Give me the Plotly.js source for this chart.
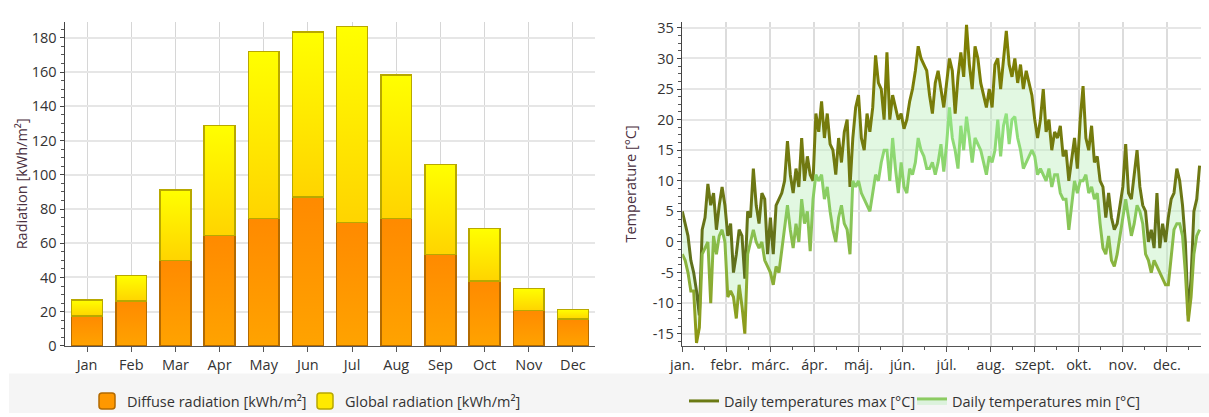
<!DOCTYPE html>
<html>
<head>
<meta charset="utf-8">
<script src="https://cdn.plot.ly/plotly-3.0.1.min.js"></script>
<style>
html,body{margin:0;padding:0;background:#fff;}
#chart{width:1209px;height:417px;}
</style>
</head>
<body>
<div id="chart"></div>
<script>
// ---- Radiation chart data ----
const months = ['Jan','Feb','Mar','Apr','May','Jun','Jul','Aug','Sep','Oct','Nov','Dec'];
const diffuse = [17.5, 26.2, 49.9, 64.6, 74.6, 87, 72, 74.4, 53.4, 38, 20.8, 15.6];
const globalRad = [26.8, 41.1, 91.2, 128.8, 171.9, 183.4, 186.7, 158.3, 106, 68.6, 33.7, 21.4];

// ---- Temperature chart data (every 2nd day of the year, day index 0..364) ----
const monthTickDays = [0, 31, 62, 93, 124, 155, 186, 217, 248, 279, 310, 341];
const monthTickText = ['jan.','febr.','márc.','ápr.','máj.','jún.','júl.','aug.','szept.','okt.','nov.','dec.'];
const tempTickVals = [-15,-10,-5,0,5,10,15,20,25,30,35];
const tempTickText = ['-15','-10','-5','0','5','10','15','20','25','30','35'];

const tMax = [
  5,3,1,-3,-5,-8,-12,2,4,9.5,6,8,2,6,9,6,
  1,3,-5,-2,2,1,-6,5,4,12,6,3,8,7,-2,
  4,-2,6,7,8,10,16.5,11,8,12,9,17,10,14,11,10,
  21,18,23,17,21,16,15,11,17,13,18,20,9,17,22,
  24,17,15,21,18,22,30.5,26,25,20,31,20,24,22,20,21,
  18.5,20,23,25,28,32,
  30,29,28,24,21,26,28,25,22,
  26,30,28,21,27,31,27,35.5,29,25,32,30,26,24,22,25,
  22,29,30,25,30,34.5,29,27,30,26,29,25,28,26,24,
  20,17,20,25,18,20,15,18,17,19,14,15,10,14,17,12,
  20,25.5,17,15,19,13,14,10,9,4,8,4,2,3,6,
  9,16,8,7,11,15,9,6,5,0,2,-1,8,-1,3,0,
  4,7,8,12,10,6,0,-12,-6,5,7,12.5
];
const tMin = [
  -2,-3,-5,-8,-8,-16.5,-14,-2,-1,0,-10,1,-2,1,2,0,
  -9,-8,-9,-12.5,-7,-10.5,-15,-2,0,2,0,-1,0,-3,-4,
  -5,-7,-4,-5,-1,3,6,2,-1,3,0,7,3,5,-1.5,7,
  11,10,11,7,9,5,2,0,4,6,3,2,-2,10,9,
  10,8,7,6,5,8,11,10,13,15,15,10,17,12,8,13,
  9,8,12,11,13,17,
  15,14,12,12,13,11,13,16,11.5,
  16,22,17,15,12,19,15,20.5,17,13,17,16,15,13,11,14,
  13,15,20,14,19,21,16,20,20.5,17,15,12,13,14,15,
  14,11,12,11,10,12,9,11,11,8,7,7,2,6,10,8,
  10,10,11,8,9,7,8,3,-1,-2,1,-3,-4,-2,1,
  4,7,4,1,3,6,5,3,-2,-3,-5,-3,-4,-5,-6,-7,
  -7,-2,2,3,3,1,-5,-13,-9,-2,1,2
];
const days = tMax.map((_, i) => i * 2);

// ---- build traces ----
const globalRest = globalRad.map((g, i) => g - diffuse[i]);
const FONT = '"Segoe UI","Open Sans","Noto Sans",sans-serif';

const traces = [
  {
    type: 'bar', name: 'Diffuse radiation [kWh/m²]', x: months, y: diffuse,
    xaxis: 'x', yaxis: 'y', legend: 'legend',
    marker: {color: '#FF9800', line: {color: '#B36A00', width: 1.5}}
  },
  {
    type: 'bar', name: 'Global radiation [kWh/m²]', x: months, y: globalRest,
    customdata: globalRad,
    xaxis: 'x', yaxis: 'y', legend: 'legend',
    marker: {color: '#FFEA00', line: {color: '#B8A800', width: 1.5}}
  },
  {
    type: 'scatter', mode: 'lines', name: 'Daily temperatures max [°C]', x: days, y: tMax,
    xaxis: 'x2', yaxis: 'y2', legend: 'legend2',
    line: {color: '#6B7A14', width: 3}
  },
  {
    type: 'scatter', mode: 'lines', name: 'Daily temperatures min [°C]', x: days, y: tMin,
    xaxis: 'x2', yaxis: 'y2', legend: 'legend2',
    fill: 'tonexty', fillcolor: 'rgba(190,240,190,0.45)',
    line: {color: '#8CCB62', width: 3}
  }
];

const W = 1209, H = 417;
const px = v => v / W, py = v => (H - v) / H;

const layout = {
  width: W, height: H,
  margin: {l: 0, r: 0, t: 0, b: 0},
  paper_bgcolor: '#fff', plot_bgcolor: '#fff',
  font: {family: FONT, size: 14.5, color: '#333'},
  barmode: 'stack', bargap: 0.3,
  showlegend: true,
  xaxis: {
    domain: [px(65), px(595)], anchor: 'y', type: 'category',
    range: [-0.5, 11.5],
    showgrid: true, gridcolor: '#D6D6D6', gridwidth: 1,
    showline: true, linecolor: '#555', linewidth: 1.5,
    ticks: 'outside', ticklen: 5, tickcolor: '#555',
    tickfont: {size: 14.5, color: '#333'}, zeroline: false, fixedrange: true
  },
  // companion axis carrying the small ticks at the month boundaries
  xaxis3: {
    overlaying: 'x', anchor: 'y', side: 'bottom',
    range: [-0.5, 11.5], tickmode: 'linear', tick0: -0.5, dtick: 1,
    ticks: 'outside', ticklen: 3, tickcolor: '#555',
    showticklabels: false, showgrid: false, showline: false, zeroline: false
  },
  yaxis: {
    domain: [py(349.3), py(22)], anchor: 'x',
    range: [0, 189.4], dtick: 20, tick0: 0,
    showgrid: true, gridcolor: '#E6E6E6', gridwidth: 2,
    showline: true, linecolor: '#444', linewidth: 1.5,
    ticks: 'outside', ticklen: 4, tickcolor: '#444',
    minor: {dtick: 5, tick0: 0, ticklen: 2.5, tickcolor: '#555', showgrid: false},
    tickfont: {size: 14.5, color: '#333'}, zeroline: false,
    title: {text: 'Radiation [kWh/m²]', font: {size: 14.5, color: '#4a3040'}, standoff: 0}
  },
  xaxis2: {
    domain: [px(682.3), px(1201)], anchor: 'y2',
    range: [0, 365],
    tickmode: 'array', tickvals: monthTickDays, ticktext: monthTickText,
    showgrid: true, gridcolor: '#DCDCDC', gridwidth: 2,
    showline: true, linecolor: '#555', linewidth: 1.5,
    ticks: 'outside', ticklen: 5, tickcolor: '#555',
    minor: {tickmode: 'linear', tick0: 0, dtick: 15.5, ticklen: 3, tickcolor: '#555', showgrid: false},
    tickfont: {size: 14.5, color: '#333'}, zeroline: false
  },
  yaxis2: {
    domain: [py(349.3), py(22)], anchor: 'x2',
    range: [-17, 36],
    tickmode: 'array', tickvals: tempTickVals, ticktext: tempTickText,
    showgrid: true, gridcolor: '#E6E6E6', gridwidth: 2,
    showline: true, linecolor: '#444', linewidth: 1.5,
    ticks: 'outside', ticklen: 4, tickcolor: '#444',
    minor: {tickmode: 'linear', tick0: 0, dtick: 1.25, ticklen: 2.5, tickcolor: '#555', showgrid: false},
    tickfont: {size: 14.5, color: '#333'}, zeroline: false,
    title: {text: 'Temperature [°C]', font: {size: 14.5, color: '#4a3040'}, standoff: 12}
  },
  legend: {
    orientation: 'h', x: px(87), xanchor: 'left', y: py(405), yanchor: 'middle',
    bgcolor: 'rgba(0,0,0,0)', borderwidth: 0, entrywidth: 173, entrywidthmode: 'pixels',
    font: {size: 14.5, color: '#333'}, traceorder: 'normal'
  },
  legend2: {
    orientation: 'h', x: px(684), xanchor: 'left', y: py(405), yanchor: 'middle',
    bgcolor: 'rgba(0,0,0,0)', borderwidth: 0, entrywidth: 183, entrywidthmode: 'pixels',
    font: {size: 14.5, color: '#333'}, traceorder: 'normal'
  },
  shapes: [
    {type: 'rect', xref: 'paper', yref: 'paper', x0: px(9), x1: 1, y0: 0, y1: py(377),
     fillcolor: '#F5F5F5', line: {width: 0}, layer: 'below'}
  ]
};

Plotly.newPlot('chart', traces, layout, {staticPlot: true, displayModeBar: false}).then(gd => {
  const NS = 'http://www.w3.org/2000/svg';
  const svg = gd.querySelector('svg.main-svg');
  const defs = document.createElementNS(NS, 'defs');
  svg.insertBefore(defs, svg.firstChild);
  function grad(id, stops) {
    const g = document.createElementNS(NS, 'linearGradient');
    g.setAttribute('id', id);
    g.setAttribute('x1', '0'); g.setAttribute('y1', '0');
    g.setAttribute('x2', '0'); g.setAttribute('y2', '1');
    stops.forEach(([o, c]) => {
      const s = document.createElementNS(NS, 'stop');
      s.setAttribute('offset', o); s.setAttribute('stop-color', c);
      g.appendChild(s);
    });
    defs.appendChild(g);
  }
  grad('gOrange', [['0', '#FF8A00'], ['1', '#FFA300']]);
  grad('gYellow', [['0', '#FFFF00'], ['1', '#FFD400']]);
  grad('gMax', [['0', '#808000'], ['0.45', '#727A10'], ['1', '#566C22']]);
  grad('gMin', [['0', '#92E482'], ['0.45', '#88C85C'], ['1', '#8C9410']]);

  gd.querySelectorAll('.barlayer .trace').forEach(t => {
    const name = t.__data__ && t.__data__[0] && t.__data__[0].trace.name;
    const id = name && name.indexOf('Diffuse') === 0 ? 'gOrange' : 'gYellow';
    t.querySelectorAll('path').forEach(p => { p.style.fill = 'url(#' + id + ')'; });
  });
  gd.querySelectorAll('.scatterlayer .trace').forEach(t => {
    const name = t.__data__ && t.__data__[0] && t.__data__[0].trace.name;
    const id = name && name.indexOf('Daily temperatures max') === 0 ? 'gMax' : 'gMin';
    t.querySelectorAll('path.js-line').forEach(p => { p.style.stroke = 'url(#' + id + ')'; });
  });
  gd.querySelectorAll('.legend .legendpoints path.legendundefined, .legend .legendbar path').forEach(p => {
    p.setAttribute('d', 'M-8,-5Q-8,-8 -5,-8H5Q8,-8 8,-5V5Q8,8 5,8H-5Q-8,8 -8,5Z');
  });
});
</script>
</body>
</html>
